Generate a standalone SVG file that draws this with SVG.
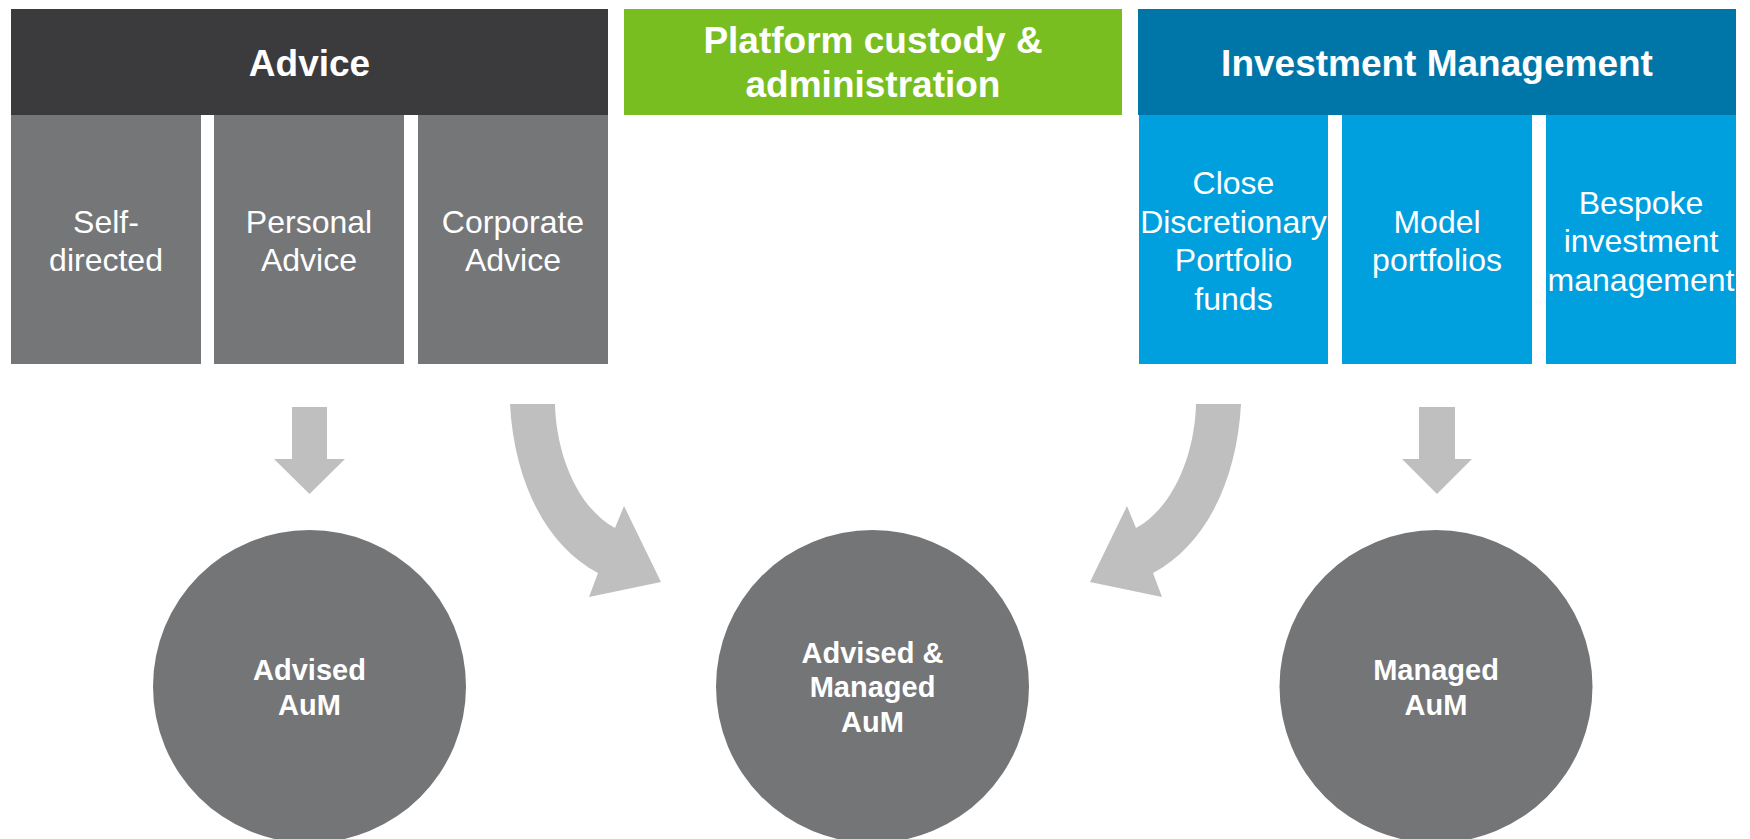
<svg xmlns="http://www.w3.org/2000/svg" width="1750" height="839" viewBox="0 0 1750 839">
<style>
.hd{font-family:"Liberation Sans",Arial,sans-serif;font-weight:bold;font-size:37px;fill:#fff;text-anchor:middle}
.sb{font-family:"Liberation Sans",Arial,sans-serif;font-size:32px;fill:#fff;text-anchor:middle}
.ct{font-family:"Liberation Sans",Arial,sans-serif;font-weight:bold;font-size:29px;fill:#fff;text-anchor:middle}
.gbox{fill:#757678}
.bbox{fill:#00A0DF}
.circ{fill:#747577}
.arr{fill:#BFBFBF}
</style>
<rect width="1750" height="839" fill="#fff"/>
<g id="advice">
<rect x="11" y="9" width="597" height="106" fill="#3B3B3D"/>
<text class="hd" x="309.5" y="76">Advice</text>
</g>
<g id="self-directed">
<rect class="gbox" x="11" y="115" width="190" height="249"/>
<text class="sb" x="106" y="233">Self-</text>
<text class="sb" x="106" y="271">directed</text>
</g>
<g id="personal-advice">
<rect class="gbox" x="214" y="115" width="190" height="249"/>
<text class="sb" x="309" y="233">Personal</text>
<text class="sb" x="309" y="271">Advice</text>
</g>
<g id="corporate-advice">
<rect class="gbox" x="418" y="115" width="190" height="249"/>
<text class="sb" x="513" y="233">Corporate</text>
<text class="sb" x="513" y="271">Advice</text>
</g>
<g id="platform">
<rect x="624" y="9" width="498" height="106" fill="#78BE20"/>
<text class="hd" x="873" y="53">Platform custody &amp;</text>
<text class="hd" x="873" y="97">administration</text>
</g>
<g id="investment-management">
<rect x="1138" y="9" width="598" height="106" fill="#0076A8"/>
<text class="hd" x="1437" y="76">Investment Management</text>
</g>
<g id="close-dpf">
<rect class="bbox" x="1139" y="115" width="189" height="249"/>
<text class="sb" x="1233.5" y="194">Close</text>
<text class="sb" x="1233.5" y="233">Discretionary</text>
<text class="sb" x="1233.5" y="271">Portfolio</text>
<text class="sb" x="1233.5" y="310">funds</text>
</g>
<g id="model-portfolios">
<rect class="bbox" x="1342" y="115" width="190" height="249"/>
<text class="sb" x="1437" y="233">Model</text>
<text class="sb" x="1437" y="271">portfolios</text>
</g>
<g id="bespoke">
<rect class="bbox" x="1546" y="115" width="190" height="249"/>
<text class="sb" x="1641" y="214">Bespoke</text>
<text class="sb" x="1641" y="252">investment</text>
<text class="sb" x="1641" y="291">management</text>
</g>
<g id="connectors">
<polygon class="arr" points="292,407 327,407 327,459 345,459 309.5,494 274,459 292,459"/>
<polygon class="arr" points="1419,407 1455,407 1455,459 1472,459 1437,494 1402,459 1419,459"/>
<path class="arr" d="M510,404 L555,404 C556,450 575,506 615,528 L624,506 L661,582 L589,597 L598,573 C545,545 514,480 510,404 Z"/>
<path class="arr" transform="translate(1751,0) scale(-1,1)" d="M510,404 L555,404 C556,450 575,506 615,528 L624,506 L661,582 L589,597 L598,573 C545,545 514,480 510,404 Z"/>
</g>
<g id="advised-aum">
<circle class="circ" cx="309.5" cy="686.5" r="156.5"/>
<text class="ct" x="309.5" y="680">Advised</text>
<text class="ct" x="309.5" y="715">AuM</text>
</g>
<g id="advised-managed-aum">
<circle class="circ" cx="872.5" cy="686.5" r="156.5"/>
<text class="ct" x="872.5" y="663">Advised &amp;</text>
<text class="ct" x="872.5" y="697">Managed</text>
<text class="ct" x="872.5" y="732">AuM</text>
</g>
<g id="managed-aum">
<circle class="circ" cx="1436" cy="686.5" r="156.5"/>
<text class="ct" x="1436" y="680">Managed</text>
<text class="ct" x="1436" y="715">AuM</text>
</g>
</svg>
